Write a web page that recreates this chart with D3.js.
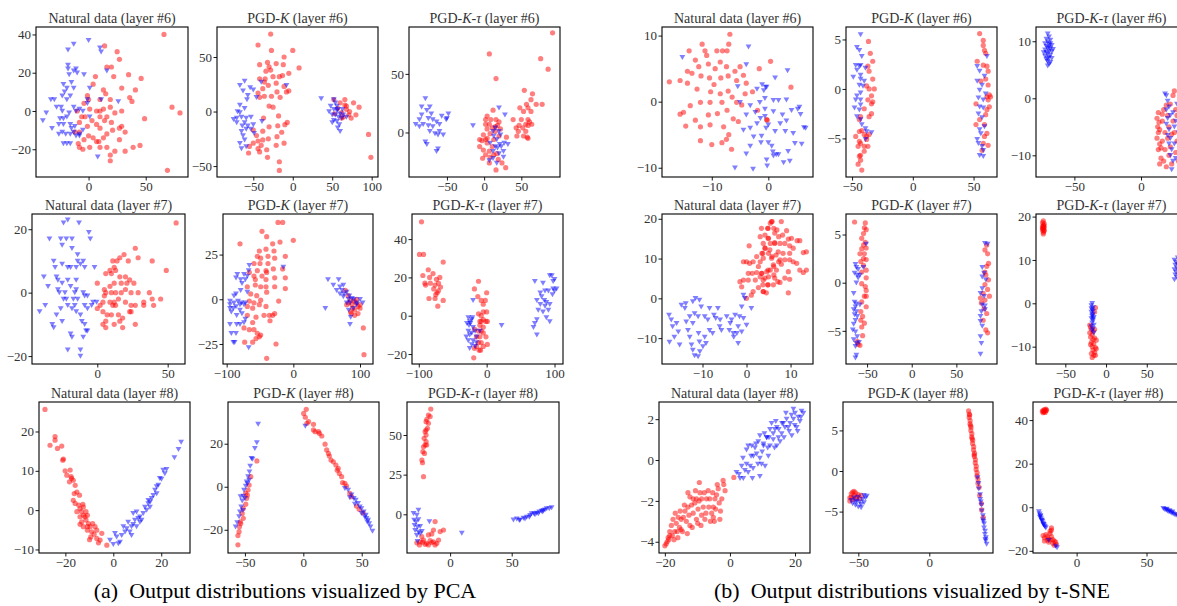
<!DOCTYPE html>
<html>
<head>
<meta charset="utf-8">
<script src="https://cdn.jsdelivr.net/npm/d3@7"></script>
<style>
  body { margin: 0; background: #fff; }
  svg { display: block; }
</style>
</head>
<body>
<div id="chart"></div>
<script>
// ---- data: one pair of arrays per panel, [x, y] in data units ----

// PCA, layer 6
const pca6NatRed = [[66,40],[73,2],[80,-1],[69,-31],[49,-4],[14,34],[25,31],[27,27],[20,23],[16,23],[22,18],[35,19],[46,17],[41,11],[29,12],[36,7],[38,5],[6,18],[4,14],[13,11],[15,9],[10,6],[19,2],[7,0],[1,1],[-3,-3],[-6,-3],[-10,0],[3,-5],[7,-7],[10,-9],[14,-5],[20,-6],[21,-10],[27,-9],[29,-8],[16,-12],[13,-14],[9,-16],[4,-14],[0,-13],[-4,-15],[-9,-17],[-8,-19],[-5,-20],[1,-19],[7,-16],[10,-19],[16,-19],[19,-23],[19,-26],[23,-21],[32,-21],[39,-19],[45,-18],[27,-15],[32,-11],[29,0],[23,-1],[16,-3],[10,-3],[-1,-8],[-12,-11],[-8,-11],[-8,-6],[-4,4],[0,6],[-1,8],[10,0],[19,6],[13,1]];
const pca6NatBlue = [[-40,-5],[-37,-1],[-33,6],[-32,-9],[-30,6],[-28,2],[-26,-12],[-23,0],[-24,2],[-23,8],[-22,14],[-21,10],[-19,12],[-18,22],[-18,24],[-18,32],[-13,35],[-17,19],[-13,21],[-11,22],[-10,20],[-15,15],[-13,12],[-16,8],[-19,6],[-13,2],[-11,0],[-8,1],[-5,0],[-4,19],[-1,6],[0,37],[1,12],[-17,-1],[-19,-3],[-22,-4],[-25,-4],[-26,-7],[-22,-7],[-16,-7],[-15,-9],[-13,-11],[-8,-12],[-12,-8],[-23,-11],[-20,-12],[-16,-12],[-11,-13],[-8,-13],[-22,-17],[-19,-17],[-16,-17],[-5,-10],[10,33],[11,31],[16,21],[26,5],[8,-24],[-1,4],[1,-3],[11,6]];
const pca6KRed = [[-28,71],[-44,61],[-27,56],[-11,50],[0,56],[-42,43],[-32,45],[-21,44],[-12,43],[-30,41],[-28,38],[-34,37],[8,40],[-5,35],[-13,33],[-35,30],[-25,32],[-17,32],[-42,30],[-36,27],[-31,24],[-21,26],[-11,23],[-8,18],[-5,19],[-20,18],[-38,21],[-44,17],[-42,13],[-27,14],[-16,13],[-36,14],[-50,-17],[-46,-22],[-38,-18],[-30,-14],[-19,-13],[-10,-12],[-7,-10],[-14,-19],[-20,-23],[-11,-29],[-21,-31],[-31,-25],[-38,-26],[-44,-27],[-55,-32],[-50,-29],[-44,-34],[-40,-31],[-33,-35],[-32,-42],[-17,-46],[-17,-54],[-42,-37],[-56,-38],[-30,5],[-25,4],[-37,-6],[-18,-4],[52,11],[66,11],[77,8],[84,4],[68,5],[72,0],[62,-1],[71,-3],[80,-3],[64,-5],[57,3],[53,-2],[74,-6],[68,2],[60,8],[96,-21],[99,-42],[66,6],[62,-6]];
const pca6KBlue = [[-67,24],[-61,28],[-54,22],[-63,19],[-57,15],[-50,20],[-46,13],[-58,11],[-61,3],[-70,0],[-67,-1],[-75,-7],[-71,-6],[-65,-5],[-59,-6],[-53,-5],[-61,-10],[-64,-13],[-59,-16],[-53,-16],[-57,-13],[-65,-18],[-63,-22],[-67,-29],[-65,-34],[-59,-32],[-61,-26],[-50,-12],[-71,-10],[-40,27],[-39,-9],[-49,-20],[-67,6],[-8,24],[36,12],[52,11],[54,8],[48,5],[52,2],[56,5],[46,0],[50,-3],[54,-3],[58,-5],[60,-2],[64,-3],[52,-8],[56,-9],[59,-12],[60,-18],[57,-15],[50,-10],[62,-6],[68,-5],[56,1],[57,2],[63,2]];
const pca6TauRed = [[7,67],[16,46],[76,63],[86,54],[92,85],[54,36],[65,33],[63,28],[57,24],[70,24],[78,24],[48,21],[59,21],[53,18],[63,18],[39,11],[50,11],[59,11],[56,7],[61,9],[47,6],[59,6],[52,4],[43,4],[56,1],[46,1],[53,-3],[58,-4],[59,-5],[44,-3],[64,7],[30,-4],[12,19],[4,14],[2,11],[9,11],[16,11],[20,9],[7,7],[2,7],[18,6],[11,4],[4,3],[15,1],[8,-1],[-1,-2],[2,-6],[-3,-7],[-6,-12],[4,-9],[11,-12],[13,-6],[20,-3],[-1,-15],[7,-16],[8,-21],[2,-19],[-2,-22],[7,-26],[16,-32],[29,-30],[24,-26],[19,-23],[13,-19],[17,-18],[4,-5],[15,5],[22,3],[-6,-6]];
const pca6TauBlue = [[-92,7],[-87,11],[-79,29],[-73,22],[-77,19],[-71,16],[-84,15],[-75,12],[-69,11],[-82,7],[-75,6],[-69,5],[-64,9],[-57,14],[-48,16],[-51,11],[-60,7],[-73,1],[-66,-1],[-60,1],[-55,-2],[-62,-2],[-79,-8],[-77,-10],[-62,-14],[-64,-16],[-87,5],[-84,22],[-50,12],[-15,6],[20,21],[28,15],[15,4],[12,1],[20,1],[13,-3],[17,-6],[22,-2],[8,-9],[15,-12],[18,-13],[21,-10],[12,-16],[20,-18],[26,-16],[12,-22],[7,-24],[17,-26],[26,-21],[32,-10],[27,-9],[23,-12]];

// t-SNE, layer 6
const tsne6NatRed = [[-17.5,3],[-6.8,10.2],[-11.7,8.7],[-14,7.7],[-12.9,6.3],[-10.9,7],[-11.2,7.7],[-9.1,7.7],[-8.1,7.7],[-7.3,7.7],[-7,8.7],[-8.5,6],[-7.4,5.3],[-9.4,5],[-10.6,5.7],[-12.3,5.3],[-14.3,4.6],[-13.5,4.3],[-15.6,3.2],[-14.3,2.8],[-11.9,3.9],[-10.4,3.6],[-8.4,3.6],[-7.1,3.9],[-5.9,4.6],[-4.4,4],[-5,5.3],[-5.6,3.2],[-3.9,2.8],[-2.8,1.5],[-1.6,5],[0.4,6.1],[-10.2,1.5],[-8.5,1.2],[-7.1,1.6],[-6.4,0.7],[-8.2,-0.1],[-10.3,-0.1],[-12,-0.1],[-13.8,-0.6],[-15.6,-1.9],[-15,-1.6],[-14.6,-3.7],[-12.9,-2.8],[-12,-3.8],[-10.3,-3.5],[-10.6,-2],[-9,-1.8],[-7.3,-1.3],[-6.2,-2.6],[-5.3,-3],[-7.9,-3.8],[-7,-5],[-8.2,-6.2],[-10,-6.5],[-12,-5.9],[-6.5,-7.2],[-7.4,-5.7],[-0.3,-2.7],[-4.7,-0.5],[-1.9,-1.3],[-5.6,-0.1],[-4.1,1.2],[4,2.2],[-0.2,-2.8],[-12.6,1.9],[-9.6,2.6]];
const tsne6NatBlue = [[-15.2,6.7],[-3.5,8.3],[-3.9,5.6],[-5.4,2.3],[-2,1.9],[-1.1,2.6],[-0.5,2.2],[-5,-0.1],[-3.2,-0.6],[-2.3,-1.6],[-1.5,-0.1],[-0.6,-1.1],[-3.9,-2],[-4.4,-4.3],[-3.2,-4],[-2,-3.3],[-1.4,-2.5],[0,-3.5],[-2.6,-5.3],[-1.3,-6.2],[0,-6.2],[-3.2,-6.7],[-3.9,-7.9],[-5.9,-10],[-2.7,-10.2],[0.8,-7.6],[-0.3,-8.8],[1.4,-8],[3.4,4.7],[1.2,3.6],[-0.3,2.2],[-0.8,1.7],[-0.6,0.5],[0.9,0.2],[1.8,0.2],[3.2,0.3],[5.2,-1.1],[5.5,-0.8],[4.1,-1.3],[2.5,-2],[0.9,-1.5],[-0.6,-2.2],[2.1,-3.3],[3.2,-2.9],[5.7,-1.9],[6.3,-3.9],[6.6,-4],[4.4,-4.8],[3,-4.5],[1.2,-4.5],[-0.4,-4],[-1.2,-5.2],[0.6,-6.7],[1.8,-8],[0.9,-8.2],[2.7,-9.2],[3.8,-9],[4.7,-6.3],[5.9,-6.4],[-0.2,-9.7],[3.5,-7.5]];
const tsne6KRed = [[-36.5,4.8],[-35,3.6],[-33,2.8],[-37,2.3],[-36,1.8],[-33,1],[-31.7,0],[-36,0],[-38,0.3],[-34,-0.7],[-37,-1.1],[-33,-1.3],[-34,-1.5],[-40,-2],[-43,-2.8],[-44,-3.1],[-34,-2.5],[-36,-2.8],[-42,-4.2],[-47,-4.8],[-44,-4.3],[-40,-4.6],[-38,-4.8],[-44,-5.3],[-43,-5.5],[-40,-5.8],[-45,-5.8],[-43,-6.7],[-44,-6.8],[-45,-7.6],[-42,-8.2],[-43,-7.2],[-37,-5.8],[-38,-5.1],[-40,-6.3],[-36,-4.6],[55,5.6],[58,4.9],[58,4.4],[59,3.9],[60,3.6],[53,2.8],[58,2.4],[61,2.3],[62,1.8],[56,0.8],[60,1],[62,0.4],[63,-0.6],[61,-0.8],[52,-1.5],[62,-1.1],[61,-2.1],[63,-1.8],[60,-2.6],[55,-3.1],[52,-3.6],[59,-3.6],[61,-4.5],[59,-4.8],[58,-5.5],[62,-5.7],[57,-6.2],[64,-0.8]];
const tsne6KBlue = [[-43,5.5],[-46,4.2],[-44,3.9],[-42,3.3],[-47,2.4],[-44,2.3],[-43,2.4],[-39,2.1],[-46,1.9],[-49,1.2],[-43,1],[-44,0.4],[-41,0.3],[-40,0.8],[-43,-0.4],[-46,-0.7],[-47,-1.1],[-43,-1.1],[-48,-1.9],[-44,-2.1],[-46,-2.8],[-43,-3.1],[-42,-3.6],[-39,-4],[-38,-4.3],[-34,-4.4],[-39,-5.1],[-43,-1.6],[-43,1.4],[61,3.3],[53,2.3],[55,1.8],[53,0.8],[57,0.4],[55,-0.1],[54,-0.9],[58,-1.1],[55,-1.8],[58,-1.9],[54,-2.5],[57,-2.9],[59,-3.8],[55,-4.1],[53,-5.1],[54,-5.5],[57,-5.8],[58,-6.2],[55,-6.7],[58,-6.8],[56,-4.5],[60,-0.5],[59,1.3]];
const tsne6TauRed = [[12,-3.5],[13,-2.5],[12.5,-5],[13,-6],[14,-5.5],[12,-7],[14,-8],[13,-9],[15,-10.5],[14,-11.5],[16,-4],[17,-2],[18,-6],[16,-7.5],[18,-9],[17,-11],[19,-12],[20,-3],[21,-5],[20,-7],[22,-8.5],[21,-10],[23,-11.5],[22,-1],[24,0.5],[25,1.3],[26,-2],[24,-4],[25,-6],[27,-7.5],[26,-9.5],[28,-11],[27,-3],[29,-5],[30,-1],[29,-8],[31,-10],[32,-4],[30,-12],[33,-6],[16,-2.8],[13.5,-4.2],[19,-1.2],[15,-8.7],[23,-6.3]];
const tsne6TauBlue = [[-70,11.3],[-69,10.8],[-71,10.4],[-68,10.2],[-70,9.9],[-72,9.6],[-69,9.5],[-67,9.3],[-71,9.1],[-70,8.8],[-68,8.7],[-72,8.5],[-69,8.3],[-67,8.2],[-71,8],[-70,7.8],[-68,7.6],[-72,7.4],[-69,7.2],[-67,7],[-71,6.8],[-70,6.5],[-68,6.3],[-69,6],[-70,5.7],[-66,8.6],[-73,8],[-68,9.6],[-70,7],[-69,9],[18,0.8],[19,0.5],[20,-0.5],[19,-2],[21,-1.5],[20,-3.5],[22,-3],[19,-4.5],[21,-5.5],[20,-6.5],[22,-7],[21,-8],[23,-9],[22,-10],[24,-11],[23,-12.5],[25,-5],[24,-2.5],[26,-4],[25,-8],[27,-1],[26,-10.5],[28,-6],[29,-3],[30,-9],[31,-6.5],[32,-2],[33,-11]];

// PCA, layer 7
const pca7NatRed = [[56,22],[49,7],[39,10],[27,14],[19,12],[16,11],[11,10],[14,10],[22,10],[29,11],[9,7],[12,8],[0,3],[6,6],[10,6],[13,7],[16,5],[20,5],[23,4],[26,3],[21,3],[17,3],[12,3],[9,2],[5,1],[6,0],[10,0],[13,0],[17,0],[20,1],[24,0],[29,0],[37,0],[39,-2],[45,-2],[33,-3],[33,-4],[40,-4],[27,-4],[24,-4],[20,-3],[15,-2],[12,-3],[11,-4],[13,-4],[2,-4],[4,-3],[5,-1],[0,-5],[4,-6],[7,-7],[10,-7],[15,-7],[18,-8],[23,-6],[24,-6],[16,-9],[12,-10],[6,-9],[4,-10],[6,-11],[18,-11],[27,-10],[9,-3]];
const pca7NatBlue = [[-41,-6],[-37,-4],[-34,17],[-31,-11],[-38,5],[-35,2],[-30,8],[-31,10],[-29,5],[-28,4],[-28,1],[-27,0],[-25,3],[-25,9],[-26,17],[-24,22],[-21,23],[-25,15],[-22,17],[-18,17],[-18,14],[-21,8],[-23,0],[-24,-2],[-26,-5],[-29,-7],[-25,-9],[-21,-4],[-18,-5],[-16,-4],[-14,-2],[-16,0],[-15,1],[-19,2],[-21,4],[-19,8],[-15,8],[-14,10],[-12,9],[-10,10],[-9,8],[-13,22],[-6,19],[-5,17],[-2,8],[-14,12],[-15,4],[-15,-6],[-12,-7],[-11,-9],[-9,-10],[-8,-12],[-7,-12],[-10,-14],[-12,-18],[-12,-20],[-21,-18],[-19,-13],[-32,-10],[-18,-14],[-10,0],[-9,-1],[-7,-1],[-4,-4],[-3,-3],[-0.5,-3],[-7,-5],[-9,-4],[-17,-2],[-22,-2]];
const pca7KRed = [[-23,43],[-16,43],[0,33],[-47,38],[-40,35],[-80,31],[-31,31],[-20,32],[-51,27],[-41,28],[-29,27],[-38,24],[-28,23],[-12,24],[-54,24],[-49,23],[-59,20],[-50,20],[-38,20],[-30,17],[-41,16],[-16,17],[-54,16],[-66,15],[-59,13],[-47,13],[-40,15],[-12,12],[-28,12],[-41,11],[-57,11],[-69,7],[-57,8],[-49,7],[-41,7],[-28,7],[-12,6],[-64,3],[-55,2],[-40,4],[-49,-0.5],[-22,-1],[-66,-1],[-59,-2],[-51,-3],[-41,-4],[-69,-4],[-61,-5],[-56,-10],[-44,-9],[-36,-9],[-31,-9],[-28,-8],[-35,-12],[-69,-9],[-61,-13],[-74,-16],[-66,-17],[-59,-17],[-54,-19],[-49,-20],[-56,-22],[-51,-21],[-61,-24],[-73,-24],[-26,-25],[-40,-33],[78,5],[82,2],[86,-0.5],[88,-3],[91,-1],[94,-2],[95,0],[97,-4],[100,-5],[89,-5],[92,-6],[80,-3],[83,-2],[86,-7],[97,-8],[100,-3],[105,-16],[106,-31],[87,-8],[92,-9]];
const pca7KBlue = [[-95,-1],[-95,-3],[-90,-5],[-89,-2],[-95,-5],[-93,-7],[-86,-4],[-85,-9],[-80,-3],[-78,-2],[-74,-3],[-72,-2],[-86,3],[-89,2],[-86,12],[-84,14],[-79,11],[-77,9],[-72,11],[-67,16],[-66,19],[-69,13],[-74,14],[-79,5],[-69,4],[-95,-14],[-85,-14],[-80,-14],[-74,-13],[-93,-19],[-86,-19],[-90,-24],[-88,-24],[-67,-27],[-72,-11],[-77,-8],[-80,-6],[-15,18],[-83,-1],[52,11],[60,8],[68,11],[70,7],[75,8],[73,5],[80,4],[84,2],[76,3],[83,0],[88,0.5],[91,0],[95,-2],[85,-2],[80,-2],[75,1.5],[90,-5],[83,-6],[86,-10],[85,-14],[95,-3],[100,0],[104,-2],[70,3],[65,5],[48,-5]];
const pca7TauRed = [[-96,49],[-99,32],[-93,32],[-64,28],[-86,24],[-79,22],[-94,21],[-84,20],[-74,19],[-69,20],[-91,17],[-90,16],[-83,17],[-76,16],[-71,17],[-68,15],[-78,14],[-73,12],[-75,11],[-71,13],[-85,9],[-76,9],[-64,8],[-72,5],[-12,18],[-18,14],[-13,10],[-2,8],[0,12],[-8,8],[-5,6],[-12,1],[-5,2],[0,2],[1,-3],[-8,0],[-5,-2],[-10,-5],[-5,-6],[-8,-8],[-5,-9],[-10,-11],[-1,-11],[-8,-14],[-12,-14],[-15,-16],[-11,-18],[-9,-18],[-5,-16],[-18,-17],[-19,-22],[1,-15],[-1,-3],[-10,-3],[-18,-7],[-15,-11],[-12,-8],[-8,-3]];
const pca7TauBlue = [[-20,8],[-25,-3],[-22,-2],[-26,-5],[-20,-6],[-27,-8],[-22,-9],[-17,-8],[-25,-10],[-30,-11],[-27,-13],[-20,-13],[-15,-14],[-22,-15],[-17,-16],[-25,-17],[-15,-11],[-21,-1],[-27,-1],[-10,-8],[22,-5],[-24,-4],[-29,-4],[71,18],[74,8],[83,17],[93,21],[96,21],[98,18],[100,19],[103,14],[98,14],[91,13],[79,12],[81,10],[85,8],[88,7],[93,6],[86,5],[79,6],[76,3],[83,2],[91,3],[93,-3],[88,-1],[74,-2],[69,-6],[71,-4],[74,-10],[86,13],[97,11],[100,13]];

// t-SNE, layer 7
const tsne7NatRed = [[0.6,13.2],[-1.5,4.2],[-1.1,2.9],[0,0],[1.1,0.8],[-0.7,9.2],[0,9.2],[0.7,8.8],[1.5,9.2],[2.3,10.5],[3.1,9.2],[2.7,8],[3.5,11.3],[3.1,15.5],[4.2,15.9],[4.8,17.6],[5.4,18.9],[5.8,19.3],[6.2,17.6],[6.9,17.2],[7.3,15.5],[5,15.1],[5.4,13.8],[6.4,13.8],[4.2,12.6],[3.7,11.3],[5,11.3],[5.8,10.5],[6.7,10.9],[7.3,9.2],[6.2,8],[5.4,7.1],[4.6,6.7],[3.5,6.3],[2.3,6.5],[1.3,6.3],[0.4,6.3],[-0.7,4.6],[0.4,4.6],[2,4.6],[3.1,5.4],[3.8,4.6],[5,5.4],[6.2,5.9],[7.1,4.2],[4.8,3.4],[3.7,3.4],[2.7,2.7],[1.5,1.7],[3.8,1.7],[3.4,17.6],[4.9,17.6],[5.7,19.3],[7.9,19.3],[6.4,16.4],[8.2,15.9],[9.1,17],[10.2,15.1],[9.5,14.9],[11.5,14.5],[12.1,14.5],[4.9,15.1],[3.8,13.8],[6.4,14],[7.6,13.8],[8.7,13.8],[9.8,13.2],[10.6,12.6],[4.2,12.6],[5.3,12.2],[7.2,11.7],[8.3,11.3],[9.8,11.3],[12.9,11.5],[13.6,11.7],[3.8,10.1],[5.7,10.1],[7.6,9.7],[8.7,9.7],[9.8,9.7],[10.6,9.2],[11.4,8.8],[12.1,7.1],[12.9,6.5],[13.6,7.1],[6.1,8.4],[7.9,8.6],[4.9,7.1],[6.8,7.1],[9.5,6.7],[3.4,6.3],[4.2,5.1],[6.4,5.1],[8.7,5.1],[9.8,4.8],[7.6,4],[4.9,3.4],[6.1,3.4],[3.8,1.7],[4.5,1.4],[9.5,1.4]];
const tsne7NatBlue = [[-17.6,-4.2],[-17.5,-11],[-17.1,-5.4],[-16.8,-7.1],[-16.4,-9.7],[-15.9,-6.3],[-15.5,-8.4],[-15.2,-11.7],[-14.8,-1.7],[-14,-2.5],[-13.8,-1.3],[-13.7,-5.9],[-13.3,-8],[-12.9,-9.7],[-12.5,-11.7],[-12.2,-13],[-11.8,-14.4],[-11,-14.6],[-10.6,-13.4],[-9.9,-12.1],[-9.2,-11.3],[-9.5,-9.7],[-10.9,-8.8],[-12.2,-6.3],[-12.9,-4.6],[-11.8,-3.8],[-11,-4.6],[-10.3,-2.1],[-11.6,0],[-12.2,-0.8],[-10.7,-0.4],[-9.5,-4.6],[-8.8,-5.4],[-8.4,-2.5],[-7.4,-4.2],[-7,-5],[-6.5,-2.5],[-6,-5.4],[-5.7,-8],[-6.1,-7.1],[-8.4,-8],[-7.7,-8.8],[-10.7,-10.9],[-4.5,-4.6],[-3.7,-6.3],[-3.4,-5.4],[-3.9,-8],[-3,-8.8],[-1.9,-7.1],[-1.6,-4.6],[-0.7,-5],[0,-6.7],[-1.1,-8.4],[-2.2,-8.8],[-2.9,-9.7],[-1.9,-11.3],[-1.1,-2.1],[-0.7,0.8],[-0.4,0],[1.1,-2.5],[-2.6,-4.2]];
const tsne7KRed = [[-64,6.3],[-52,6.2],[-53,5.7],[-51,5.5],[-54,5.1],[-56,4.6],[-52,4.2],[-54,3.9],[-51,3.6],[-56,3.5],[-58,3],[-53,3],[-54,2.5],[-51,2.4],[-57,2.2],[-54,1.8],[-51,1.3],[-56,1.1],[-51,0.5],[-56,-0.1],[-52,-0.4],[-51,-1.4],[-53,-1.4],[-56,-2],[-51,-2.5],[-57,-3],[-55,-3.5],[-57,-3.9],[-53,-4.2],[-56,-4.6],[-55,-5.5],[-60,-6.4],[-58,-6.5],[-61,-6.1],[-51,-0.8],[84,3.9],[82,3.4],[85,3],[86,2],[84,1.7],[82,1.1],[83,0.8],[86,0.3],[82,-0.2],[85,-0.7],[87,-1.4],[80,-1.1],[78,-2.1],[81,-2.7],[84,-3.2],[80,-3.9],[83,-4.9],[85,-5.2],[77,-1.6],[82,-1.8]];
const tsne7KBlue = [[-65,-1.1],[-62,0],[-64,1],[-61,0.8],[-60,0.5],[-62,1.6],[-63,1.9],[-60,1.4],[-58,0.8],[-54,1.6],[-51,4],[-64,-2],[-62,-2.2],[-63,-2.5],[-65,-2.8],[-62,-3],[-64,-3.3],[-61,-3.5],[-63,-3.9],[-65,-4.3],[-66,-4.9],[-63,-5.1],[-61,-5.6],[-65,-5.9],[-62,-6.3],[-59,-6.2],[-63,-6.6],[-62,-7.5],[-63,-7.8],[-58,-2.3],[82,4.1],[85,4],[79,1.6],[81,1],[79,0.6],[77,-1.1],[79,-0.6],[81,-1.4],[79,-2.3],[82,-2.4],[78,-3],[77,-3.5],[77,-4],[79,-4.5],[77,-5.6],[78,-6.3],[77,-7.4],[82,-2.8],[83,0.3]];
const tsne7TauRed = [[-77,19],[-78,18.6],[-76,18.4],[-77,18],[-78,17.7],[-76,17.5],[-77,17.2],[-78,16.9],[-76,16.7],[-77,16.4],[-77,16],[-76,17.9],[-78,17.3],[-77,17.6],[-76,16.9],[-13,-1],[-14,-2],[-20,-5],[-19,-5.5],[-18,-6],[-20,-6.8],[-17,-7.2],[-19,-7.8],[-16,-8.3],[-18,-9],[-14,-8],[-12,-8.5],[-15,-9.3],[-17,-10],[-13,-10.2],[-16,-10.8],[-14,-11.3],[-18,-11.6],[-15,-12],[-17,-12.5],[-13,-12],[-16,-6.5],[-19,-9.5],[-12,-10.5],[-14,-6]];
const tsne7TauBlue = [[-17,0],[-18,-0.5],[-16,-1],[-17,-1.5],[-18,-2],[-16,-2.5],[-17,-3],[-15,-3.2],[-18,-3.5],[-16,-4],[-17,-4.5],[-15,-5],[-18,-5.3],[-16,-5.8],[-17,-6.3],[-15,-6.8],[-16,-1.8],[-18,-1.2],[-17,-2.7],[-16,-3.6],[84,10],[86,9.5],[85,8.8],[87,8.2],[84,7.8],[86,7.2],[85,6.6],[87,6],[84,5.5],[88,9],[89,7.5],[90,8.5],[91,6.5],[88,10.5],[92,9.2]];

// PCA, layer 8
const pca8NatRed = [[-28.5,25.6],[-26.4,16.5],[-24.3,18.7],[-24.3,17.8],[-23.3,15.7],[-21.5,16.3],[-21.1,12.7],[-20.8,13],[-20.1,10],[-19.4,8.9],[-18,10.2],[-17.4,8.1],[-18.3,7.2],[-16.7,7.6],[-17.6,8.5],[-15.9,6.3],[-15.2,4.6],[-14.1,3.8],[-16.3,4.2],[-15.9,1.7],[-14.4,1.3],[-13.9,0.4],[-13.2,-0.4],[-12.5,-1.3],[-11.8,-1.7],[-10.8,-1.3],[-11.4,-2.5],[-13.2,-3],[-10.4,-3.4],[-9.7,-4.2],[-8.6,-3.4],[-7.6,-4.2],[-6.9,-5.1],[-9,-5.5],[-10.8,-5.1],[-12.5,-4.2],[-13.9,-3.6],[-9.4,-6.8],[-9.9,-7.5],[-8,-6.1],[-6.9,-7.2],[-5.5,-7.6],[-6.2,-8.3],[-4.8,-5.9],[-2.7,-8.9],[-12.7,1.5],[-11.4,-0.4],[-15.2,-0.4],[-13.9,-1.7],[-16.7,2.5],[-12.5,0.8],[-10.8,-4.2]];
const pca8NatBlue = [[-1.4,-7.6],[0.7,-5.9],[0,-8.7],[2.1,-8.5],[2.8,-8.1],[1.4,-6.8],[3.5,-6.4],[4.2,-4.2],[5.6,-4.7],[6.9,-5.5],[7.6,-4.2],[8.3,-3.6],[9,-2.5],[9.7,-4.2],[10.4,-2.1],[11.8,-2.5],[11.1,-3],[12.5,-0.8],[13.9,0],[13.2,0.8],[14.6,1.7],[16,3],[16.7,3.8],[17.4,5.1],[18.1,6],[18.8,6.4],[19.4,8.1],[20.1,7.9],[20.8,10.2],[22.2,10.4],[21.5,9.3],[25.5,13.4],[27.2,15.5],[28.3,17.3],[8.3,-0.8],[9.7,-0.4],[11.1,-1.7],[6.2,-3],[4.9,-5.5],[7.6,-6.4],[15.4,2.1],[14.6,2.5],[15.3,0.8],[18.1,4.2]];
const pca8KRed = [[-56,-27],[-56,-22.7],[-55,-20.9],[-54.7,-18.6],[-54,-16.3],[-52.3,-12.4],[-51.4,-10.1],[-49.3,-8.1],[-48.5,-5.4],[-47.9,-3.9],[-49.3,-3.1],[-47.3,-1.5],[-46.4,0.8],[-45,4.7],[-39.8,12],[-53.6,-17.1],[-51.4,-14.7],[0.3,34.1],[2.5,36],[1.7,32.3],[4.5,30.3],[8.7,29],[8.7,26.4],[10.1,25.6],[13.8,24.8],[15.8,23.6],[18.6,19.8],[20,17.1],[21.5,15.5],[22.3,14.3],[25.7,11.6],[27.9,10.1],[29,7.7],[30.8,6.2],[32.8,4.7],[33.6,1.9],[37,0.3],[39.8,-3.1],[41.3,-4.6],[45.5,-9],[47.8,-10.5],[51.2,-12.1],[3.1,29.5],[13,25.6],[23.7,12.4],[29.9,8.5],[35.6,1.6]];
const pca8KBlue = [[-58,-18.6],[-56.6,-16.7],[-55,-13.9],[-54.3,-11.6],[-53.2,-9.3],[-52.3,-6.5],[-51.4,-4.3],[-50.8,-1.5],[-49.3,0.3],[-48.5,2.3],[-47.3,4.7],[-46.1,7],[-45.5,9.6],[-44.4,13.2],[-43.5,12.9],[-41.5,17.9],[-39.8,20.5],[-38.7,29.2],[-47.9,1.5],[-46.4,3.1],[-50,-5.4],[-53.8,-4.6],[-51.7,-10.9],[1.7,28.2],[35.6,-0.7],[38.4,-1.5],[41.3,-3.8],[43.2,-5.4],[44.9,-6.2],[46.9,-7.7],[48.4,-9.3],[49.8,-10.1],[51.7,-11.6],[53.5,-13.2],[54.1,-14.7],[55.5,-15.5],[56.4,-17.1],[57.5,-18.6],[59.2,-20.6],[49.8,-12.4],[52.6,-14],[44.1,-8.1],[39.8,-5],[54.7,-16.3]];
const pca8TauRed = [[-15.7,66.4],[-17.6,62.6],[-18.9,59.8],[-19.5,58.4],[-18.4,54.2],[-20.3,52.1],[-19.5,50],[-21.1,47.9],[-19.5,45.8],[-20.3,43.7],[-21.6,42.6],[-22.1,39.5],[-20.8,38.4],[-22.9,34.2],[-22.4,32.5],[-21.6,23.7],[-19,43.7],[-17.6,57.4],[-16.2,61.6],[-19.5,53.1],[-27,-18],[-24.3,-17.3],[-21.6,-16.2],[-19,-18.3],[-16.2,-16.6],[-13.5,-17.3],[-10.8,-18.3],[-9.4,-16.2],[-23,-14],[-17.6,-13],[-13.5,-9.9],[-14.9,-12.4],[-12.2,-4.6],[-5.4,-9.9],[-8.1,-10.9],[-20.3,-18.9],[-24.9,-19.3],[-17.6,-19.3],[-12.2,-19.3],[-14.9,-17.8],[-22.4,-17.6]];
const pca8TauBlue = [[-29.7,0.6],[-25.7,2.7],[-27,-0.5],[-29.2,-3.7],[-27.6,-4.8],[-25.7,-3.3],[-28.9,-7],[-26.5,-8],[-24.3,-7.6],[-28.4,-10.1],[-25.7,-11.2],[-27,-13.3],[-24.3,-12.2],[-26.5,-17],[-22.9,-10.7],[-16.8,-4.6],[9.5,-11.9],[51.4,-3.4],[54.1,-2.8],[56.8,-3.4],[59.5,-2.3],[62.2,-1.7],[64.9,-0.6],[66.2,0.4],[68.9,-0.2],[70.3,0.8],[72.4,1.5],[74.3,2.1],[75.7,2.5],[77,2.9],[78.4,3.6],[80.5,3.6],[82.4,4.2],[56.2,-3.8],[60.8,-2.8],[64.3,-1.7],[68.1,0.4],[71.6,0.4],[75.1,1.5]];

// t-SNE, layer 8
const tsne8NatRed = [[-20,-4.2],[-19.3,-4],[-19,-3.8],[-18.5,-3.7],[-17.7,-3.7],[-17,-3.5],[-17.5,-2.9],[-16.2,-3.5],[-16.5,-3.1],[-15.5,-3.3],[-15,-2.9],[-14.3,-2.8],[-13.4,-3],[-13.8,-2.5],[-12.9,-2.3],[-12.3,-1.8],[-11.3,-2.6],[-10.8,-2.1],[-10.3,-1.9],[-9.8,-2.4],[-9.2,-1.6],[-8.7,-2.7],[-8.2,-2.3],[-7.7,-2.9],[-7.2,-1.9],[-6.7,-1.5],[-6.2,-1.9],[-5.6,-2.6],[-5.1,-2.3],[-4.6,-1.9],[-4.1,-1.7],[-3.6,-1.4],[-3.1,-2.9],[-2.9,-2.5],[-2.1,-1],[-1.5,-1.5],[-9.4,-1.1],[-11.3,-1.9],[-12.9,-1.6],[-15.9,-2.8],[-18.5,-3.5],[-15,-3.4],[-12.3,-3.2],[-10.3,-2.9],[-8.7,-1.9],[-5.1,-2.8],[1.2,-0.85],[-19.6,-4.1],[-18.8,-3.9],[-18,-3.2],[-17.2,-3.9],[-16.8,-2.6],[-16,-3.8],[-15.3,-2.5],[-14.6,-3.5],[-14,-2.2],[-13.1,-3.6],[-12.6,-2.7],[-11.8,-2.2],[-11.6,-3.3],[-10.6,-1.5],[-9.9,-3.1],[-9.5,-2],[-8.9,-3.2],[-7.9,-1.6],[-7.4,-2.6],[-6.5,-2.3],[-6,-3],[-5.3,-1.6],[-4.4,-2.4],[-3.9,-1.2],[-3.3,-2.1],[-2.5,-1.9],[-1.9,-1.2],[-4.8,-3]];
const tsne8NatBlue = [[2,-0.6],[2.8,-0.7],[3.6,-0.3],[4.1,-0.9],[4.6,-0.5],[5.1,-0.2],[6.2,-0.3],[5.1,0.5],[5.6,0.7],[6.7,0.7],[7.2,0.2],[8.2,0.3],[9.2,0.1],[9.2,-0.8],[9.7,-0.2],[10.3,0.7],[11.3,1.1],[12.3,1.5],[13.3,1.3],[14.4,1.6],[8.7,0.9],[7.7,0.6],[11.8,0.2],[9.2,1.2],[10.3,0.8],[11.3,1.1],[12.3,0.7],[13.3,1],[13.8,1.5],[14.9,1.1],[15.9,1.3],[16.4,1.8],[17.4,2],[17.9,1.6],[18.5,1.8],[19,1.2],[19.5,2],[20,2.3],[21,2.1],[22,2.4],[22.6,2.3],[20.5,1.6],[21.5,1.9],[19.5,2.5],[16.9,1.6],[14.4,0.7],[15.4,0.9],[10.8,-0.3],[3.1,-0.9],[4,0.1],[5.6,-0.6],[6.5,0.2],[7.1,-0.4],[8,0.8],[8.6,-0.2],[9.9,0.4],[10.6,1.3],[11.6,0.6],[12.8,1.8],[13.7,0.6],[14.1,1.9],[15,1.5],[16,1.8],[16.6,1.1],[17.2,2.3],[18.2,1.4],[18.9,2.2],[20.8,1.4],[21.8,2.1],[19.9,1.7],[12,1.1],[6.9,-0.9]];
const tsne8KRed = [[-56,-3.3],[-55,-2.8],[-54,-2.6],[-53,-3],[-52,-2.7],[-51,-3.2],[-50,-2.9],[-49,-3.4],[-54,-3.5],[-56,-3.7],[-52,-3.4],[-48,-3],[-53,-2.5],[-55,-3.2],[27.7,7.4],[28.2,7],[28.1,6.6],[28.8,6.2],[28.7,5.8],[29.4,5.4],[29.3,5],[30,4.6],[29.9,4.2],[30.6,3.8],[30.5,3.4],[31.3,3],[31.2,2.6],[31.9,2.2],[31.8,1.8],[32.5,1.4],[32.4,1],[33.1,0.6],[33,0.2],[33.7,-0.2],[33.6,-0.6],[34.3,-1],[34.3,-1.5],[35.1,-2],[35.5,-3],[36.7,-4],[36.9,-4.8],[38,-5.7],[28.5,6.9],[30.2,4],[31.6,2],[29.1,5.6]];
const tsne8KBlue = [[-55,-3.6],[-54,-4],[-53,-3.3],[-52,-4.2],[-51,-3.7],[-50,-4.4],[-49,-3.8],[-48,-4.1],[-47,-3.5],[-46,-3.9],[-45,-3.3],[-44,-3.1],[-50,-3.2],[-52,-3.8],[-48,-4.5],[-46,-3],[34,-0.8],[34.7,-1.5],[34.9,-2.2],[35.8,-2.9],[35.9,-3.5],[36.8,-4.2],[37,-4.9],[37.8,-5.5],[37.8,-6],[38.6,-6.5],[38.6,-7],[39.3,-7.4],[39.2,-7.8],[39.9,-8.2],[39.8,-8.6],[40.4,-9],[36.3,-3.8],[38.2,-6.2],[39.5,-8.4]];
const tsne8TauRed = [[-24,44.5],[-23,44.8],[-22,44.3],[-23.5,43.8],[-22.5,43.5],[-24.5,44],[-23,44],[-21.5,44.6],[-24,43.4],[-22,45],[-22,-12.5],[-23,-14],[-21,-13.5],[-20,-14.5],[-19,-12],[-18,-10.5],[-19,-15],[-17,-14.8],[-16,-15.5],[-15,-16],[-14.5,-17],[-18,-13.5],[-21,-15],[-23,-15.5],[-20,-16],[-17,-16.5],[-16,-17.5],[-19,-11],[-18,-9.5],[-24,-13]];
const tsne8TauBlue = [[-27,-2],[-26.5,-3],[-26,-3.8],[-26.3,-4.5],[-25.5,-5],[-25,-5.8],[-24.5,-6.5],[-24,-7.2],[-23.5,-7.8],[-23,-8.5],[-22.5,-9],[-22,-9.4],[-25.8,-4],[-24.8,-6],[-23.8,-8],[-14,-18.5],[-15,-17.8],[-20,-15.2],[62,-0.5],[63,-1],[64,-1.2],[65,-1.6],[66,-2],[67,-2.2],[68,-2.5],[69,-2.9],[70,-3.2],[71,-3.5],[72,-3.8],[73,-4.1],[74,-4.4],[64.5,-0.8],[66.5,-1.5],[68.5,-2.1]];

// panel order: row by row, PCA columns then t-SNE columns
const titles = [
  "Natural data (layer #6)", "PGD-*K* (layer #6)", "PGD-*K*-*τ* (layer #6)",
  "Natural data (layer #6)", "PGD-*K* (layer #6)", "PGD-*K*-*τ* (layer #6)",
  "Natural data (layer #7)", "PGD-*K* (layer #7)", "PGD-*K*-*τ* (layer #7)",
  "Natural data (layer #7)", "PGD-*K* (layer #7)", "PGD-*K*-*τ* (layer #7)",
  "Natural data (layer #8)", "PGD-*K* (layer #8)", "PGD-*K*-*τ* (layer #8)",
  "Natural data (layer #8)", "PGD-*K* (layer #8)", "PGD-*K*-*τ* (layer #8)"
];
const xDomains = [
  [-46, 87], [-96, 108], [-101, 102], [-18.8, 7.9], [-55, 69.3], [-78.8, 34.5],
  [-46.4, 62.3], [-105.5, 119.5], [-110, 112.5], [-19.2, 15.1], [-73.6, 95.5], [-86, 99.4],
  [-31, 32], [-64.5, 64.8], [-35, 88.4], [-21.8, 24.6], [-60.8, 44.9], [-31.2, 76.8]
];
const yDomains = [
  [-34.5, 43.9], [-60, 77.5], [-38, 90], [-11.4, 11.3], [-8.9, 6.26], [-13.8, 12.5],
  [-22.5, 24.8], [-36.2, 47.7], [-25.2, 53.1], [-16.5, 21.2], [-8.44, 7.13], [-14, 20.6],
  [-10.9, 27.5], [-30.8, 39.4], [-24.4, 70.8], [-4.55, 2.84], [-10.1, 8.5], [-21, 48.3]
];
const xTickVals = [
  [0, 50], [-50, 0, 50, 100], [-50, 0, 50], [-10, 0], [-50, 0, 50], [-50, 0],
  [0, 50], [-100, 0, 100], [-100, 0, 100], [-10, 0, 10], [-50, 0, 50], [-50, 0, 50],
  [-20, 0, 20], [-50, 0, 50], [0, 50], [-20, 0, 20], [-50, 0], [0, 50]
];
const yTickVals = [
  [-20, 0, 20, 40], [-50, 0, 50], [0, 50], [-10, 0, 10], [-5, 0, 5], [-10, 0, 10],
  [-20, 0, 20], [-25, 0, 25], [-20, 0, 20, 40], [-10, 0, 10, 20], [-5, 0, 5], [-10, 0, 10, 20],
  [-10, 0, 10, 20], [-20, 0, 20], [0, 25, 50], [-4, -2, 0, 2], [-5, 0, 5], [-20, 0, 20, 40]
];
const captions = ["Output distributions visualized by PCA", "Output distributions visualized by t-SNE"];
const captionTags = ["(a)", "(b)"];

const pointSets = [
  [pca6NatRed, pca6NatBlue], [pca6KRed, pca6KBlue], [pca6TauRed, pca6TauBlue],
  [tsne6NatRed, tsne6NatBlue], [tsne6KRed, tsne6KBlue], [tsne6TauRed, tsne6TauBlue],
  [pca7NatRed, pca7NatBlue], [pca7KRed, pca7KBlue], [pca7TauRed, pca7TauBlue],
  [tsne7NatRed, tsne7NatBlue], [tsne7KRed, tsne7KBlue], [tsne7TauRed, tsne7TauBlue],
  [pca8NatRed, pca8NatBlue], [pca8KRed, pca8KBlue], [pca8TauRed, pca8TauBlue],
  [tsne8NatRed, tsne8NatBlue], [tsne8KRed, tsne8KBlue], [tsne8TauRed, tsne8TauBlue]
];

// ---- layout ----
const width = 1177;
const height = 606;
const font = "'Liberation Serif', 'DejaVu Serif', serif";

// frame boxes [left, top, right, bottom] in pixels
const frames = [
  [36, 27, 188, 177], [217, 27, 378, 177], [409, 27, 560, 177],
  [662, 27, 813, 177], [846, 27, 997, 177], [1036, 27, 1187, 177],
  [32, 214, 185, 364], [223, 214, 373, 364], [412, 214, 563, 364],
  [662, 214, 813, 364], [846, 214, 997, 364], [1036, 214, 1187, 364],
  [39, 402, 190, 553], [228, 402, 379, 553], [407, 402, 559, 553],
  [659, 402, 810, 553], [843, 402, 993, 553], [1033, 402, 1184, 553]
];
const captionX = [285, 912];
const captionY = 598;

const svg = d3.select("#chart")
  .append("svg")
  .attr("width", width)
  .attr("height", height)
  .style("font-family", font)
  .style("font-weight", "normal");

const fmt = v => v < 0 ? "\u2212" + Math.abs(v) : String(v);
const triangle = "M-2.9,-2.3L2.9,-2.3L0,2.7Z";

pointSets.forEach((sets, i) => {
  const [x0, y0, x1, y1] = frames[i];
  const x = d3.scaleLinear().domain(xDomains[i]).range([x0, x1]);
  const y = d3.scaleLinear().domain(yDomains[i]).range([y1, y0]);

  const g = svg.append("g");

  g.append("clipPath")
    .attr("id", "clip" + i)
    .append("rect")
    .attr("x", x0).attr("y", y0)
    .attr("width", x1 - x0).attr("height", y1 - y0);

  const marks = g.append("g").attr("clip-path", `url(#clip${i})`);

  // red circles first, blue triangles over them
  marks.selectAll("circle")
    .data(sets[0])
    .join("circle")
    .attr("cx", d => x(d[0]))
    .attr("cy", d => y(d[1]))
    .attr("r", 2.6)
    .attr("fill", "#ff0000")
    .attr("fill-opacity", 0.5);

  marks.selectAll("path")
    .data(sets[1])
    .join("path")
    .attr("d", triangle)
    .attr("transform", d => `translate(${x(d[0])},${y(d[1])})`)
    .attr("fill", "#0000ff")
    .attr("fill-opacity", 0.5);

  // axes
  const xAxis = g.append("g")
    .attr("transform", `translate(0,${y1})`)
    .call(d3.axisBottom(x).tickValues(xTickVals[i]).tickFormat(fmt).tickSize(3.5).tickPadding(1.5));
  const yAxis = g.append("g")
    .attr("transform", `translate(${x0},0)`)
    .call(d3.axisLeft(y).tickValues(yTickVals[i]).tickFormat(fmt).tickSize(3.5).tickPadding(1.5));

  [xAxis, yAxis].forEach(a => {
    a.select(".domain").remove();
    a.attr("font-family", font).attr("font-size", 13);
    a.selectAll("line").attr("stroke", "#000").attr("stroke-width", 0.9);
    a.selectAll("text").attr("fill", "#333");
  });

  g.append("rect")
    .attr("x", x0).attr("y", y0)
    .attr("width", x1 - x0).attr("height", y1 - y0)
    .attr("fill", "none")
    .attr("stroke", "#000")
    .attr("stroke-width", 1.1);

  // title, *...* parts in italic
  const t = g.append("text")
    .attr("x", (x0 + x1) / 2)
    .attr("y", y0 - 4.5)
    .attr("text-anchor", "middle")
    .attr("font-size", 14)
    .attr("font-weight", "normal")
    .attr("fill", "#333");
  titles[i].split("*").forEach((part, k) => {
    if (!part) return;
    t.append("tspan")
      .attr("font-style", k % 2 ? "italic" : "normal")
      .text(part);
  });
});

// sub-captions
captions.forEach((c, i) => {
  const t = svg.append("text")
    .attr("x", captionX[i])
    .attr("y", captionY)
    .attr("text-anchor", "middle")
    .attr("font-size", 22)
    .attr("fill", "#000");
  t.append("tspan").text(captionTags[i]);
  t.append("tspan").attr("dx", 11).text(c);
});
</script>
</body>
</html>
